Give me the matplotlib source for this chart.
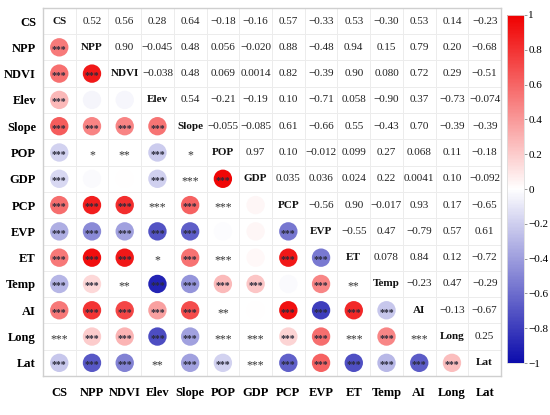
import numpy as np
import matplotlib
matplotlib.use('Agg')
import matplotlib.pyplot as plt
from matplotlib.colors import LinearSegmentedColormap, Normalize
import matplotlib.cm as cm

labels = ['CS', 'NPP', 'NDVI', 'Elev', 'Slope', 'POP', 'GDP', 'PCP', 'EVP', 'ET', 'Temp', 'AI', 'Long', 'Lat']

# upper-triangle correlations, row by row (columns to the right of the diagonal)
r_CS = [0.52, 0.56, 0.28, 0.64, -0.18, -0.16, 0.57, -0.33, 0.53, -0.30, 0.53, 0.14, -0.23]
r_NPP = [0.90, -0.045, 0.48, 0.056, -0.020, 0.88, -0.48, 0.94, 0.15, 0.79, 0.20, -0.68]
r_NDVI = [-0.038, 0.48, 0.069, 0.0014, 0.82, -0.39, 0.90, 0.080, 0.72, 0.29, -0.51]
r_Elev = [0.54, -0.21, -0.19, 0.10, -0.71, 0.058, -0.90, 0.37, -0.73, -0.074]
r_Slope = [-0.055, -0.085, 0.61, -0.66, 0.55, -0.43, 0.70, -0.39, -0.39]
r_POP = [0.97, 0.10, -0.012, 0.099, 0.27, 0.068, 0.11, -0.18]
r_GDP = [0.035, 0.036, 0.024, 0.22, 0.0041, 0.10, -0.092]
r_PCP = [-0.56, 0.90, -0.017, 0.93, 0.17, -0.65]
r_EVP = [-0.55, 0.47, -0.79, 0.57, 0.61]
r_ET = [0.078, 0.84, 0.12, -0.72]
r_Temp = [-0.23, 0.47, -0.29]
r_AI = [-0.13, -0.67]
r_Long = [0.25]

# significance stars, lower triangle, row by row (columns left of the diagonal)
s_NPP = ['***']
s_NDVI = ['***', '***']
s_Elev = ['***', '', '']
s_Slope = ['***', '***', '***', '***']
s_POP = ['***', '*', '**', '***', '*']
s_GDP = ['***', '', '', '***', '***', '***']
s_PCP = ['***', '***', '***', '***', '***', '***', '']
s_EVP = ['***', '***', '***', '***', '***', '', '', '***']
s_ET = ['***', '***', '***', '*', '***', '***', '', '***', '***']
s_Temp = ['***', '***', '**', '***', '***', '***', '***', '', '***', '**']
s_AI = ['***', '***', '***', '***', '***', '**', '', '***', '***', '***', '***']
s_Long = ['***', '***', '***', '***', '***', '***', '***', '***', '***', '***', '***', '***']
s_Lat = ['***', '***', '***', '**', '***', '***', '***', '***', '***', '***', '***', '***', '***']

upper_rows = [r_CS, r_NPP, r_NDVI, r_Elev, r_Slope, r_POP, r_GDP, r_PCP, r_EVP, r_ET, r_Temp, r_AI, r_Long]
star_rows = [[], s_NPP, s_NDVI, s_Elev, s_Slope, s_POP, s_GDP, s_PCP, s_EVP, s_ET, s_Temp, s_AI, s_Long, s_Lat]

n = len(labels)
R = np.eye(n)
for i, row in enumerate(upper_rows):
    for k, v in enumerate(row):
        j = i + 1 + k
        R[i, j] = v
        R[j, i] = v


def fmt(v):
    a = abs(v)
    dec = max(2, -int(np.floor(np.log10(a))) + 1) if a > 0 else 2
    s = f"{a:.{dec}f}"
    return ('\u2212' + s) if v < 0 else s


SERIF = ['Liberation Serif', 'DejaVu Serif']
plt.rcParams['font.family'] = SERIF

cmap = LinearSegmentedColormap.from_list('bwr_c', ['#0c0cac', '#ffffff', '#f00000'])
norm = Normalize(-1, 1)

fig = plt.figure(figsize=(5.5, 4.15), dpi=100)
ax = fig.add_axes([0.078, 0.094, 0.833, 0.887])
ax.set_xlim(-0.5, n - 0.5)
ax.set_ylim(n - 0.5, -0.5)

for b in np.arange(0.5, n - 0.5, 1):
    ax.axvline(b, color='#ececec', lw=0.7, zorder=0)
    ax.axhline(b, color='#ececec', lw=0.7, zorder=0)
for sp in ax.spines.values():
    sp.set_color('#cfcfcf')
    sp.set_linewidth(1.0)

cx, cy, cc = [], [], []
for i in range(n):
    for j in range(n):
        if j > i:
            ax.text(j, i, fmt(R[i, j]), ha='center', va='center', fontsize=8, color='#222222')
        elif j == i:
            ax.text(j, i, labels[i], ha='center', va='center', fontsize=8, fontweight='bold', color='#111111')
        else:
            v = R[i, j]
            st = star_rows[i][j]
            if abs(v) >= 0.15 or st == '':
                cx.append(j); cy.append(i); cc.append(v)
                if st:
                    ax.text(j, i + 0.07, st, ha='center', va='center', fontsize=7, fontweight='bold',
                            color='#2a2a3a', zorder=3)
            else:
                ax.text(j, i + 0.1, st, ha='center', va='center', fontsize=8.5,
                        color='#333333', zorder=3)

ax.scatter(cx, cy, c=cc, cmap=cmap, norm=norm, s=175, linewidths=0, zorder=2)

ax.set_xticks(range(n))
ax.set_yticks(range(n))
ax.set_xticklabels(labels, fontsize=9, fontweight='bold')
ax.set_yticklabels(labels, fontsize=9, fontweight='bold')
ax.tick_params(axis='y', length=0, pad=5)
ax.tick_params(axis='x', length=0, pad=8)

cax = fig.add_axes([0.921, 0.125, 0.031, 0.839])
cb = fig.colorbar(cm.ScalarMappable(norm=norm, cmap=cmap), cax=cax)
cb.set_ticks([-1, -0.8, -0.6, -0.4, -0.2, 0, 0.2, 0.4, 0.6, 0.8, 1])
cb.set_ticklabels(['\u22121', '\u22120.8', '\u22120.6', '\u22120.4', '\u22120.2', '0', '0.2', '0.4', '0.6', '0.8', '1'])
cb.ax.tick_params(labelsize=8, length=2.5, width=0.6, color='#888888', pad=1)
cb.outline.set_edgecolor('#dddddd')
cb.outline.set_linewidth(0.6)

fig.savefig('out.png', dpi=100)
